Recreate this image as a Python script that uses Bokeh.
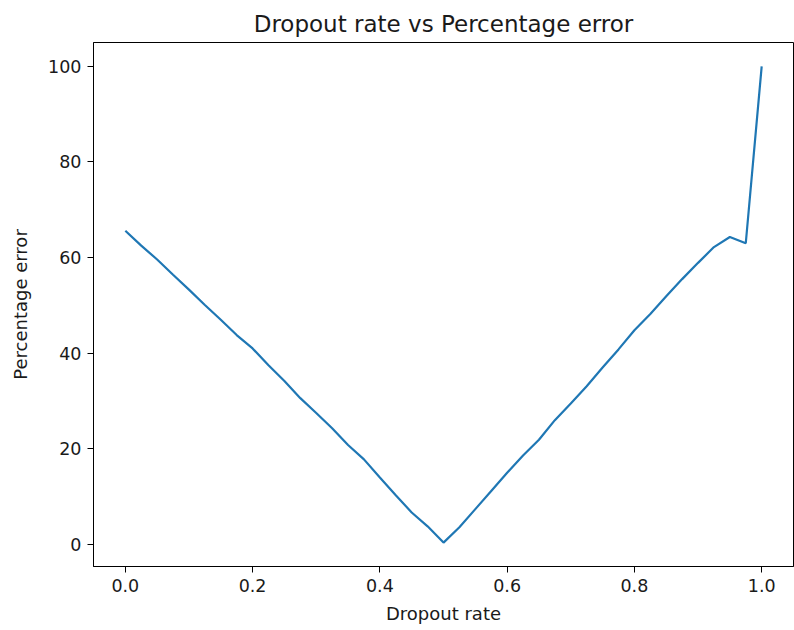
from bokeh.plotting import figure
from bokeh.models import FixedTicker, NumeralTickFormatter, Range1d
from bokeh.embed import file_html
from bokeh.resources import INLINE

dropout_rate = [0.000, 0.025, 0.050, 0.075, 0.100, 0.125, 0.150, 0.175, 0.200, 0.225,
                0.250, 0.275, 0.300, 0.325, 0.350, 0.375, 0.400, 0.425, 0.450, 0.475,
                0.500, 0.525, 0.550, 0.575, 0.600, 0.625, 0.650, 0.675, 0.700, 0.725,
                0.750, 0.775, 0.800, 0.825, 0.850, 0.875, 0.900, 0.925, 0.950, 0.975,
                1.000]
percentage_error = [65.6, 62.5, 59.6, 56.4, 53.3, 50.1, 47.0, 43.8, 41.0, 37.5,
                    34.2, 30.6, 27.5, 24.3, 20.8, 17.8, 14.0, 10.3, 6.7, 3.8,
                    0.4, 3.6, 7.4, 11.2, 15.0, 18.6, 21.9, 26.0, 29.5, 33.1,
                    37.0, 40.8, 44.8, 48.2, 51.9, 55.5, 58.9, 62.2, 64.3, 63.0,
                    100.0]
x_ticks = [0.0, 0.2, 0.4, 0.6, 0.8, 1.0]
y_ticks = [0, 20, 40, 60, 80, 100]

FONT = "DejaVu Sans"

p = figure(width=794, height=630, output_backend="svg", toolbar_location=None,
           title="Dropout rate vs Percentage error",
           x_range=Range1d(-0.05, 1.05), y_range=Range1d(-4.6, 104.98))
p.min_border_left = 93
p.min_border_top = 42
p.min_border_bottom = 64
p.min_border_right = 1
p.background_fill_color = "white"
p.border_fill_color = "white"
p.outline_line_color = "black"
p.outline_line_width = 1
p.xgrid.visible = False
p.ygrid.visible = False

p.title.align = "center"
p.title.text_font = FONT
p.title.text_font_size = "23px"
p.title.text_font_style = "normal"
p.title.text_color = "#1a1a1a"
p.title.standoff = 12

p.line(dropout_rate, percentage_error, line_color="#1f77b4", line_width=2.2)

for ax in (p.xaxis[0], p.yaxis[0]):
    ax.axis_line_color = "black"
    ax.major_tick_line_color = "black"
    ax.major_tick_out = 6
    ax.major_tick_in = 0
    ax.minor_tick_line_color = None
    ax.major_label_text_font = FONT
    ax.major_label_text_font_size = "17.5px"
    ax.major_label_text_color = "#1a1a1a"
    ax.axis_label_text_font = FONT
    ax.axis_label_text_font_size = "18px"
    ax.axis_label_text_font_style = "normal"
    ax.axis_label_text_color = "#1a1a1a"

p.xaxis.ticker = FixedTicker(ticks=x_ticks)
p.xaxis.formatter = NumeralTickFormatter(format="0.0")
p.yaxis.ticker = FixedTicker(ticks=y_ticks)
p.xaxis.axis_label = "Dropout rate"
p.yaxis.axis_label = "Percentage error"
p.xaxis.major_label_standoff = 6
p.yaxis.major_label_standoff = 6
p.xaxis.axis_label_standoff = 8
p.yaxis.axis_label_standoff = 14

open("out.html", "w").write(file_html(p, INLINE))
